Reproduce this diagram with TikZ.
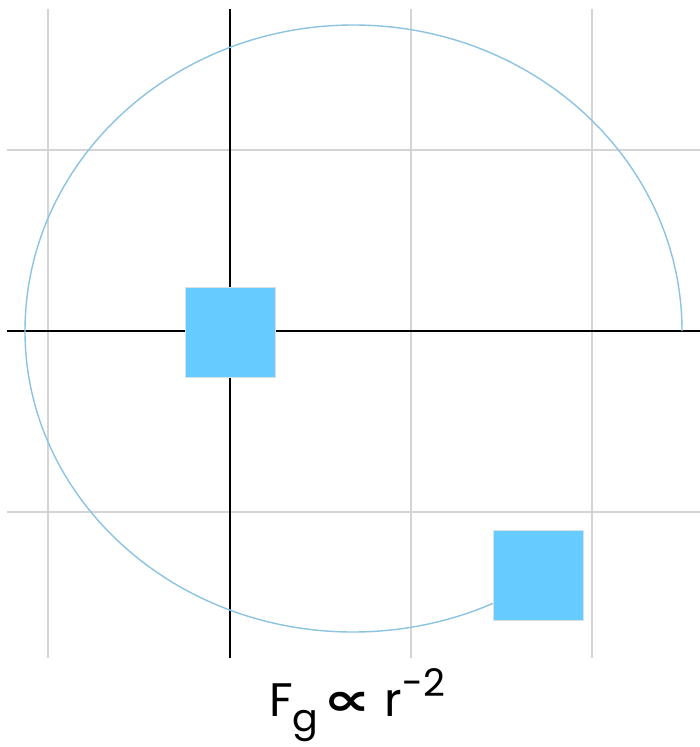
\documentclass[tikz,border=0pt]{standalone}
\usepackage{fontspec}
\usepackage{graphicx}
\setmainfont{Poppins}
\newfontfamily\symfont{DejaVu Sans}
\definecolor{gridgray}{RGB}{212,212,212}
\definecolor{orbit}{RGB}{140,195,225}
\definecolor{massblue}{RGB}{102,204,255}
\definecolor{massedge}{RGB}{215,225,230}
\begin{document}
\begin{tikzpicture}[x=1pt,y=-1pt,
  gridline/.style={draw=gridgray,line width=2.6pt},
  axisline/.style={draw=black,line width=2.6pt},
  orbitline/.style={draw=orbit,line width=1.4pt},
  mass/.style={draw=massedge,line width=1pt,fill=massblue,minimum size=90pt,inner sep=0pt,rectangle}]
\useasboundingbox (0,0) rectangle (700,747);
% grid
\foreach \x in {48,411,592} \draw[gridline] (\x,9) -- (\x,658);
\foreach \y in {150,512} \draw[gridline] (7,\y) -- (700,\y);
% axes
\draw[axisline] (7,331) -- (700,331);
\draw[axisline] (230,9) -- (230,658);
% orbit
\coordinate (start) at (682,331);
\draw[orbitline] (start) arc[start angle=0,end angle=-180,x radius=328.5,y radius=306]
  arc[start angle=180,end angle=270,x radius=328,y radius=-301]
  coordinate (bottom)
  arc[start angle=270,end angle=296,x radius=329,y radius=-301] coordinate (endpt);
% masses
\node[mass] (m1) at (230,332) {};
\node[mass] (m2) at (538,575) {};
% label
\node[anchor=base west,inner sep=0pt,font=\fontsize{47}{50}\selectfont] (lbl) at (269,716)
 {F\raisebox{-0.32em}{\fontsize{38}{40}\selectfont g}\hspace{0.1em}\raisebox{0.02em}{\scalebox{1.45}[1.0]{\fontsize{46}{48}\selectfont\symfont\bfseries ∝}}\hspace{0.3em}r\raisebox{0.42em}{\fontsize{38}{40}\selectfont -2}};
\end{tikzpicture}
\end{document}
